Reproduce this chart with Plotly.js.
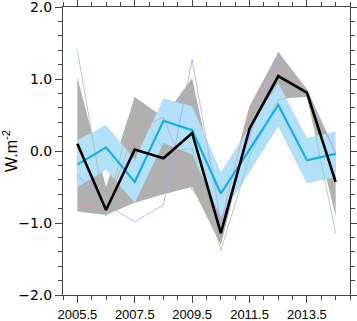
<!DOCTYPE html>
<html>
<head>
<meta charset="utf-8">
<script src="https://cdn.plot.ly/plotly-3.0.1.min.js"></script>
<style>
  html, body { margin: 0; padding: 0; background: #fff; }
  #chart { width: 357px; height: 321px; }
</style>
</head>
<body>
<div id="chart"></div>
<script>
// years (mid-year points)
const years = [2005.5, 2006.5, 2007.5, 2008.5, 2009.5, 2010.5, 2011.5, 2012.5, 2013.5, 2014.5];

// black thick line
const meanLine = [0.10, -0.82, 0.02, -0.10, 0.25, -1.14, 0.31, 1.04, 0.81, -0.43];

// cyan line and its light blue band
const cyanLine = [-0.19, 0.05, -0.43, 0.42, 0.29, -0.59, 0.02, 0.64, -0.13, -0.04];
const blueUpper = [0.15, 0.36, -0.12, 0.73, 0.62, -0.29, 0.33, 0.94, 0.18, 0.27];
const blueLower = [-0.50, -0.26, -0.72, 0.11, -0.05, -0.92, -0.29, 0.34, -0.45, -0.36];

// grey spread
const greyUpper = [1.02, -0.50, 0.75, 0.47, 1.01, -0.85, 0.62, 1.37, 0.85, -0.02];
const greyLower = [-0.84, -0.89, -0.72, -0.60, -0.50, -1.31, 0.28, 0.73, 0.75, -0.91];

// thin member lines
const greenMember = [1.40, -0.90, 0.75, 0.01, 0.03, -1.38, -0.08, 0.71, 0.80, -1.14];
const redMember = [-0.76, -0.80, 0.29, 0.47, -0.54, -1.00, 0.60, 1.15, 0.80, -0.03];
const blueMember = [-0.33, -0.75, -0.98, -0.75, 1.27, -0.99, 0.20, 1.37, 0.85, -0.03];

function band(lo, hi, color) {
    return [
        {x: years, y: lo, mode: 'lines', line: {width: 0, color: color}, showlegend: false, hoverinfo: 'skip'},
        {x: years, y: hi, mode: 'lines', line: {width: 0, color: color}, fill: 'tonexty', fillcolor: color, showlegend: false, hoverinfo: 'skip'}
    ];
}

function line(y, color, width) {
    return {x: years, y: y, mode: 'lines', line: {color: color, width: width}, showlegend: false};
}

const traces = [
    ...band(greyLower, greyUpper, '#b0b0b0'),
    ...band(blueLower, blueUpper, '#b2e0f8'),
    line(greenMember, '#9cc89c', 0.8),
    line(redMember, '#e4a0a0', 0.8),
    line(blueMember, '#a8a8f4', 0.8),
    line(cyanLine, '#10b0e8', 2.2),
    line(meanLine, '#000000', 2.6)
];

const axisCommon = {
    showgrid: false,
    zeroline: false,
    showline: true,
    linecolor: '#444',
    linewidth: 1,
    mirror: 'allticks',
    ticks: 'outside',
    ticklen: 7,
    tickwidth: 1,
    tickcolor: '#444',
    tickformat: '.1f',
    ticklabeloverflow: 'allow',
    tickfont: {family: 'Liberation Sans, Arial, sans-serif', size: 13, color: '#000'}
};

const layout = {
    width: 357,
    height: 321,
    margin: {l: 63, r: 7, t: 7, b: 26},
    paper_bgcolor: '#fff',
    plot_bgcolor: '#fff',
    xaxis: Object.assign({}, axisCommon, {
        range: [2005, 2015],
        tick0: 2005.5,
        dtick: 2,
        minor: {dtick: 0.5, tick0: 2005.5, ticks: 'outside', ticklen: 4, tickcolor: '#444'}
    }),
    yaxis: Object.assign({}, axisCommon, {
        range: [-2, 2],
        tick0: 0,
        dtick: 1,
        tickfont: {family: 'DejaVu Sans, sans-serif', size: 14, color: '#000'},
        minor: {dtick: 0.2, ticks: 'outside', ticklen: 4, tickcolor: '#444'},
        title: {text: 'W.m<sup>-2</sup>', standoff: 6, font: {family: 'Liberation Sans, Arial, sans-serif', size: 16, color: '#000'}}
    })
};

Plotly.newPlot('chart', traces, layout, {staticPlot: true});
</script>
</body>
</html>
